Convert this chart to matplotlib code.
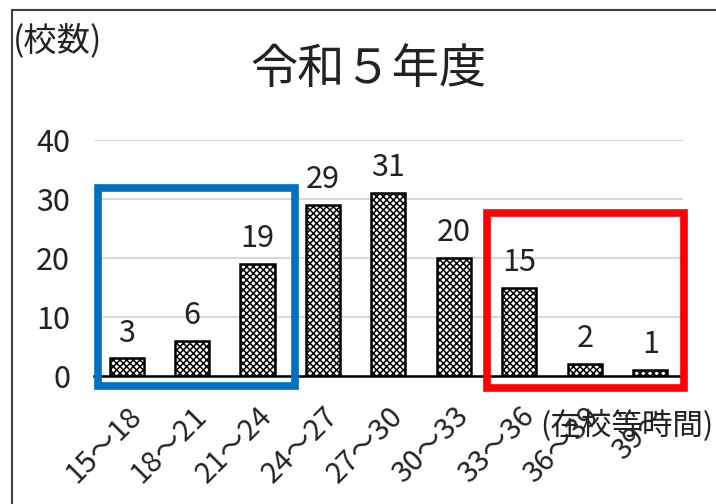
import matplotlib
matplotlib.use("Agg")
import matplotlib.pyplot as plt
from matplotlib.patches import Rectangle
from matplotlib.lines import Line2D

# ===== データ =====
categories = ["15～18", "18～21", "21～24", "24～27", "27～30",
              "30～33", "33～36", "36～39", "39～"]
counts = [3, 6, 19, 29, 31, 20, 15, 2, 1]
yticks = [0, 10, 20, 30, 40]
title = "令和５年度"
ylabel_text = "(校数)"
xlabel_text = "(在校等時間)"

plt.rcParams['font.family'] = ['Noto Sans CJK JP', 'DejaVu Sans']
plt.rcParams['hatch.linewidth'] = 1.1

fig = plt.figure(figsize=(7.16, 5.04), dpi=100)
ax = fig.add_axes([0.131, 0.254, 0.823, 0.468])

x = list(range(len(categories)))
ax.bar(x, counts, width=0.52, facecolor="white", edgecolor="black",
       hatch="xxxxx", linewidth=1.8, zorder=3)

for xi, v in zip(x, counts):
    ax.annotate(str(v), (xi, v), xytext=(0, 7), textcoords="offset points",
                ha="center", va="bottom", fontsize=22, color="#222222")

ax.set_xlim(-0.5, len(categories) - 0.5)
ax.set_ylim(0, 40)
ax.set_yticks(yticks)
ax.set_yticklabels([str(t) for t in yticks], fontsize=22, color="#222222")
ax.set_xticks(x)
ax.set_xticklabels(categories, rotation=45, ha="right", va="top",
                   rotation_mode="anchor", fontsize=21, color="#222222")
ax.tick_params(axis="x", length=0, pad=18)
ax.tick_params(axis="y", length=0, pad=17)
ax.yaxis.grid(True, color="#d9d9d9", linewidth=1.5)
ax.set_axisbelow(True)
for s in ["left", "right", "top"]:
    ax.spines[s].set_visible(False)
ax.spines["bottom"].set_linewidth(1.8)
ax.spines["bottom"].set_zorder(4)

# 強調枠
ax.add_patch(Rectangle((-0.44, -1.7), 3.02, 33.6, fill=False,
                       edgecolor="#0070C0", linewidth=5.5, clip_on=False, zorder=5))
ax.add_patch(Rectangle((5.5, -2.0), 3.02, 29.6, fill=False,
                       edgecolor="#FF0000", linewidth=5.5, clip_on=False, zorder=5))

# タイトル・軸ラベル
fig.text(0.514, 0.862, title, ha="center", va="center", fontsize=34, color="#222222")
fig.text(0.018, 0.92, ylabel_text, ha="left", va="center", fontsize=24, color="#222222")
fig.text(0.997, 0.155, xlabel_text, ha="right", va="center", fontsize=22, color="#222222")

# 外枠
fig.add_artist(Line2D([0.017, 0.017], [0.0, 0.98], color="#404040", linewidth=1.5))
fig.add_artist(Line2D([0.017, 1.0], [0.98, 0.98], color="#404040", linewidth=1.5))

fig.savefig("out.png", dpi=100)
